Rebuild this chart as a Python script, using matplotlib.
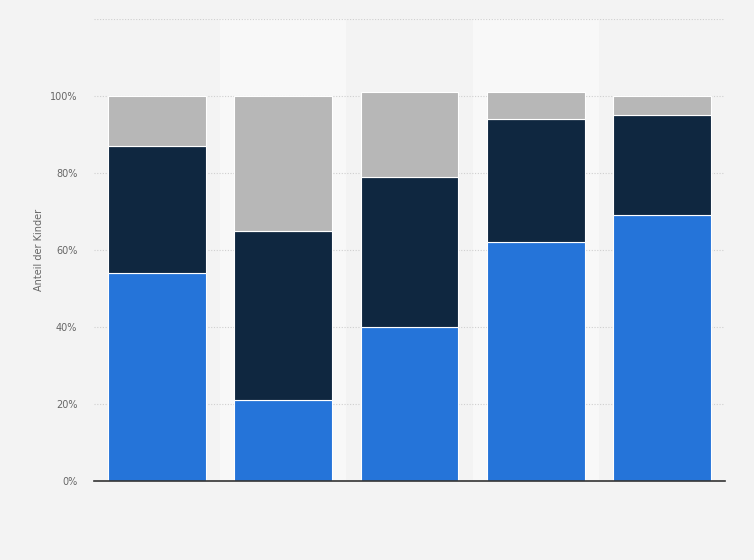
import numpy as np
import matplotlib.pyplot as plt

categories = ['1', '2', '3', '4', '5']
blue_vals = [54, 21, 40, 62, 69]
dark_vals = [33, 44, 39, 32, 26]
gray_vals = [13, 35, 22, 7, 5]
yticks = [0, 20, 40, 60, 80, 100, 120]
ytick_labels = ['0%', '20%', '40%', '60%', '80%', '100%', '']

BG = '#f3f3f3'
BAND = '#f8f8f8'
BLUE = '#2574d9'
DARK = '#0f2740'
GRAY = '#b7b7b7'

fig = plt.figure(figsize=(7.54, 5.6), dpi=100, facecolor=BG)
ax = fig.add_axes([94 / 754, 1 - 481 / 560, 631 / 754, 462 / 560])
ax.set_facecolor(BG)

x = np.arange(len(categories))
for i in x:
    if i % 2 == 1:
        ax.axvspan(i - 0.5, i + 0.5, color=BAND, zorder=0, lw=0)

ax.set_axisbelow(True)
ax.yaxis.grid(True, linestyle=(0, (1, 1.5)), color='#cfcfcf', lw=0.8)

w = 0.776
bottom = np.zeros(len(categories))
for vals, col in [(blue_vals, BLUE), (dark_vals, DARK), (gray_vals, GRAY)]:
    ax.bar(x, vals, w, bottom=bottom, color=col, edgecolor='white', lw=0.8, zorder=2)
    bottom += np.array(vals)

ax.set_xlim(-0.5, len(categories) - 0.5)
ax.set_ylim(0, 120)
ax.set_yticks(yticks)
ax.set_yticklabels(ytick_labels)
ax.set_xticks([])
ax.tick_params(axis='y', length=0, pad=12, labelsize=7, labelcolor='#666666')
for s in ['top', 'right', 'left']:
    ax.spines[s].set_visible(False)
ax.spines['bottom'].set_color('#333333')
ax.spines['bottom'].set_linewidth(1.2)
ax.spines['bottom'].set_zorder(3)

ax.set_ylabel('Anteil der Kinder', fontsize=7, color='#666666', labelpad=4)

fig.savefig('out.png', dpi=100, facecolor=BG)
